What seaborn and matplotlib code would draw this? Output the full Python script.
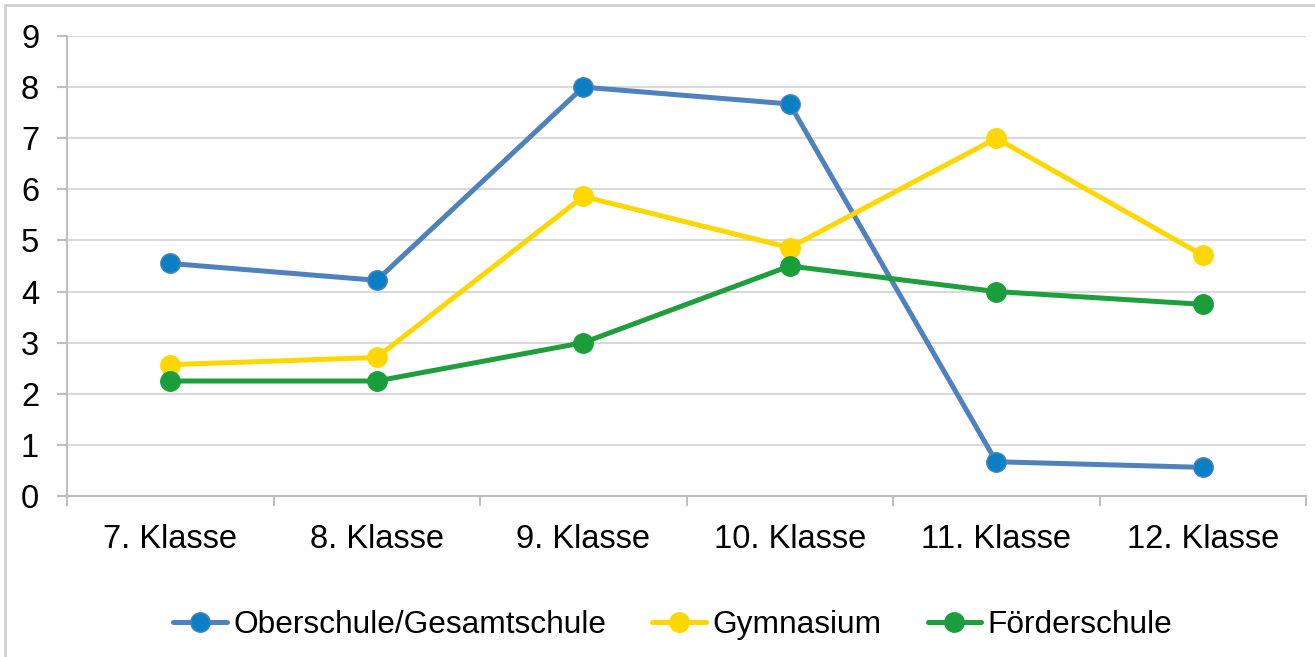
import matplotlib
matplotlib.use("Agg")
import matplotlib.pyplot as plt
import seaborn as sns
import pandas as pd
from matplotlib.patches import Rectangle

# Werte
klassen = ["7. Klasse", "8. Klasse", "9. Klasse", "10. Klasse", "11. Klasse", "12. Klasse"]
oberschule = [4.55, 4.22, 8.0, 7.67, 0.67, 0.56]
gymnasium = [2.57, 2.71, 5.86, 4.86, 7.0, 4.71]
foerderschule = [2.25, 2.25, 3.0, 4.5, 4.0, 3.75]
serien = ["Oberschule/Gesamtschule", "Gymnasium", "Förderschule"]

df = pd.DataFrame({
    "Klasse": klassen * 3,
    "Wert": oberschule + gymnasium + foerderschule,
    "Schule": [serien[0]] * 6 + [serien[1]] * 6 + [serien[2]] * 6,
})
df["pos"] = list(range(6)) * 3

sns.set_style("white")
plt.rcParams["font.family"] = ["Liberation Sans", "DejaVu Sans"]
plt.rcParams["text.color"] = "black"
plt.rcParams["xtick.color"] = "black"
plt.rcParams["ytick.color"] = "black"

linien = {serien[0]: "#4F81BD", serien[1]: "#FFD700", serien[2]: "#1E9E3C"}
punkte = {serien[0]: "#0A80C4", serien[1]: "#FFD700", serien[2]: "#1A9E3C"}

fig = plt.figure(figsize=(13.15, 6.57), dpi=100)
ax = fig.add_axes([67 / 1315, 1 - 496 / 657, (1306 - 67) / 1315, (496 - 36) / 657])

for s in serien:
    d = df[df["Schule"] == s]
    sns.lineplot(data=d, x="pos", y="Wert", ax=ax, color=linien[s], linewidth=3.6,
                 marker="o", markersize=14, markerfacecolor=punkte[s],
                 markeredgecolor=linien[s], markeredgewidth=1, label=s)

ax.set_xlim(-0.5, 5.5)
ax.set_ylim(0, 9)
ax.set_yticks(range(10))
ax.set_xticks(range(6))
ax.set_xticklabels(klassen)
ax.set_xlabel("")
ax.set_ylabel("")
ax.grid(axis="y", color="#D9D9D9", linewidth=1.5)
ax.set_axisbelow(True)
for side in ["top", "right"]:
    ax.spines[side].set_visible(False)
for side in ["left", "bottom"]:
    ax.spines[side].set_color("#BFBFBF")
    ax.spines[side].set_linewidth(1.5)

# Kategoriegrenzen als Teilstriche
ax.set_xticks([i - 0.5 for i in range(7)], minor=True)
ax.tick_params(axis="x", which="major", bottom=True, length=0, labelsize=23.5,
               labelcolor="black", pad=20)
ax.tick_params(axis="x", which="minor", bottom=True, length=7, width=1.5, color="#BFBFBF")
ax.tick_params(axis="y", left=True, length=7, width=1.5, color="#BFBFBF", labelsize=23.5,
               labelcolor="black", pad=13)

ax.legend(loc="center", bbox_to_anchor=(0.489, -0.28), ncol=3, frameon=False,
          fontsize=22.8, handlelength=1.7, handletextpad=0.2, columnspacing=1.45)

fig.patches.append(Rectangle((5 / 1315, -0.02), 1.1, (657 - 5) / 657 + 0.02,
                             transform=fig.transFigure, fill=False,
                             edgecolor="#D0D0D0", linewidth=2))

fig.savefig("out.png", dpi=100)
